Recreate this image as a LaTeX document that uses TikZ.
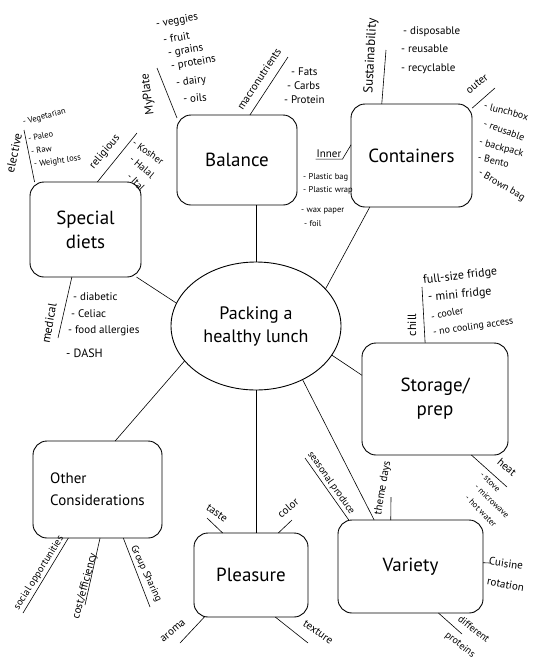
\documentclass[tikz,border=0pt]{standalone}
\usepackage{fontspec}
\setmainfont{PT Sans}
\usetikzlibrary{shapes.geometric}

\begin{document}
\begin{tikzpicture}
    [x=1pt,y=-1pt,
     topic/.style={draw,rounded corners=14pt,line width=0.9pt,outer sep=0pt,align=center,font=\fontsize{19}{24}\selectfont},
     tag/.style={font=\fontsize{11}{13}\selectfont,inner sep=1pt},
     item/.style={tag,anchor=west},
     small/.style={font=\fontsize{8.5}{10}\selectfont},
     mid/.style={font=\fontsize{10}{12}\selectfont},
     big/.style={font=\fontsize{12}{14}\selectfont},
     link/.style={line width=0.6pt}]
    \useasboundingbox (0,0) rectangle (545,662);

    \node[draw,ellipse,minimum width=170pt,minimum height=128pt,inner sep=0pt,outer sep=0pt,line width=0.9pt,align=center,font=\fontsize{18}{23}\selectfont] (hub) at (256,326) {Packing a\\healthy lunch};
    \node[topic,minimum width=120pt,minimum height=90pt] (balance) at (237,160) {Balance};
    \node[topic,minimum width=121pt,minimum height=103pt] (containers) at (411.5,155.5) {Containers};
    \node[topic,minimum width=111pt,minimum height=95pt] (diets) at (85.5,229.5) {Special\\diets};
    \node[topic,minimum width=146pt,minimum height=112pt] (storage) at (435,399) {Storage/\\prep};
    \node[topic,minimum width=129pt,minimum height=97pt,align=left,font=\fontsize{15}{22}\selectfont] (other) at (97.5,489.5) {Other\\Considerations};
    \node[topic,minimum width=114pt,minimum height=84pt] (pleasure) at (251,575) {Pleasure};
    \node[topic,minimum width=145pt,minimum height=93pt] (variety) at (410.5,566.5) {Variety};

    \draw[link] (hub.north) -- (hub.north |- balance.south);
    \draw[link] (hub.south) -- (hub.south |- pleasure.north);
    \foreach \from/\to in {hub.28/containers.231,hub.164/diets.317,hub.339/storage.162,hub.206/other.70,hub.311/variety.128}
        \draw[link] (\from) -- (\to);

    \coordinate (cPlate) at (157,68);
    \coordinate (cMacro) at (288,57);
    \coordinate (cSustain) at (386,50);
    \coordinate (cOuter) at (495,88);
    \coordinate (cElective) at (24,130);
    \coordinate (cReligion) at (137,133);
    \coordinate (cMedical) at (58,338);
    \coordinate (cChill) at (422,287);
    \coordinate (cHeat) at (507,487);
    \coordinate (cTheme) at (391,497);
    \coordinate (cSeason) at (305,458);
    \coordinate (cCuisine) at (490,563);
    \coordinate (cDiffer) at (462,634);
    \coordinate (cSocial) at (23,613);
    \coordinate (cCost) at (85,605);
    \coordinate (cGroup) at (150,607);
    \coordinate (cTaste) at (207,518);
    \coordinate (cColor) at (292,520);
    \coordinate (cAroma) at (180,643);
    \coordinate (cTexture) at (308,643);

    \foreach \from/\to in {balance.145/cPlate,balance.74/cMacro,containers.120/cSustain,containers.38/cOuter,diets.137/cElective,diets.76/cReligion,diets.254/cMedical,storage.100/cChill,storage.303/cHeat,variety.113/cTheme,variety.143/cSeason,variety.3/cCuisine,variety.301/cDiffer,other.239/cSocial,other.273/cCost,other.298/cGroup,pleasure.124/cTaste,pleasure.57/cColor,pleasure.222/cAroma,pleasure.300/cTexture}
        \draw[link] (\from) -- (\to);

    % balance
    \node[tag,big,rotate=97] (tPlate) at (148,94) {MyPlate};
    \node[tag,rotate=57] (tMacro) at (259,79) {macronutrients};
    \node[item,rotate=10] (iVeg) at (155,25) {- veggies};
    \node[item,rotate=10] (iFruit) at (162,40) {- fruit};
    \node[item,rotate=10] (iGrain) at (167,54) {- grains};
    \node[item,rotate=10] (iProt) at (170,67) {- proteins};
    \node[item,rotate=8] (iDairy) at (175,84) {- dairy};
    \node[item,rotate=5] (iOils) at (182,99) {- oils};
    \node[item] (iFats) at (290,72) {- Fats};
    \node[item] (iCarbs) at (286,86) {- Carbs};
    \node[item] (iProtein) at (283,100) {- Protein};

    % containers
    \node[tag,rotate=87,font=\fontsize{13}{15}\selectfont] (tSustain) at (371,56) {Sustainability};
    \node[item] (iDisp) at (402,32) {- disposable};
    \node[item] (iReus) at (400,49) {- reusable};
    \node[item] (iRecy) at (400,69) {- recyclable};
    \node[tag,rotate=38] (tOuter) at (477,84) {outer};
    \node[item,mid,rotate=-15] (iLunch) at (483,105) {- lunchbox};
    \node[item,mid,rotate=-20] (iReusable) at (483,123) {- reusable};
    \node[item,mid,rotate=-15] (iBack) at (478,142) {- backpack};
    \node[item,mid,rotate=-12] (iBento) at (477,157) {- Bento};
    \node[item,mid,rotate=-30] (iBrown) at (478,172) {- Brown bag};
    \node[tag] (tInner) at (329,154) {Inner};
    \draw[link] (containers.170) -- (tInner.south east) -- (tInner.south west);
    \node[item,small] (iBag) at (302,177) {- Plastic bag};
    \node[item,small] (iWrap) at (302,190) {- Plastic wrap};
    \node[item,small] (iWax) at (300,211) {- wax paper};
    \node[item,small] (iFoil) at (303,224) {- foil};

    % special diets
    \node[tag,big,rotate=78] (tElect) at (14,153) {elective};
    \node[item,small,rotate=15] (iVegetarian) at (22,123) {- Vegetarian};
    \node[item,small,rotate=12] (iPaleo) at (27,139) {- Paleo};
    \node[item,small,rotate=10] (iRaw) at (30,152) {- Raw};
    \node[item,small,rotate=8] (iWeight) at (33,165) {- Weight loss};
    \node[tag,rotate=50] (tRelig) at (105,152) {religious};
    \node[tag,mid,rotate=-35] (iKosher) at (148,152) {- Kosher};
    \node[tag,mid,rotate=-40] (iHalal) at (142,167) {- Halal};
    \node[tag,mid,rotate=-45] (iItal) at (136,182) {- Ital};
    \node[tag,big,rotate=80] (tMedical) at (49,323) {medical};
    \node[item] (iDiab) at (72,297) {- diabetic};
    \node[item] (iCeliac) at (70,314) {- Celiac};
    \node[item] (iAllerg) at (67,331) {- food allergies};
    \node[item,big] (iDash) at (65,353) {- DASH};

    % storage
    \node[tag,big,rotate=90] (tChill) at (412,325) {chill};
    \node[item,big,rotate=7] (iFull) at (422,281) {full-size fridge};
    \node[item,big,rotate=5] (iMini) at (427,298) {- mini fridge};
    \node[item,mid,rotate=12] (iCooler) at (430,317) {- cooler};
    \node[item,mid,rotate=8] (iNoCool) at (432,333) {- no cooling access};
    \node[tag,rotate=-40] (tHeat) at (507,467) {heat};
    \node[tag,small,rotate=-45] (iStove) at (490,482) {- stove};
    \node[tag,small,rotate=-45] (iMicro) at (492,501) {- microwave};
    \node[tag,small,rotate=-45] (iHot) at (481,511) {- hot water};

    % variety
    \node[tag,rotate=80] (tTheme) at (383,488) {theme days};
    \node[tag,mid,rotate=-55] (tSeason) at (331,483) {seasonal produce};
    \node[item,rotate=-8] (tCuisine) at (488,561) {Cuisine};
    \node[item,rotate=-10] (tRotation) at (486,581) {rotation};
    \node[tag,mid,rotate=-38] (tDiffer) at (474,629) {different};
    \node[tag,mid,rotate=-38] (tProteins) at (460,645) {proteins};

    % other considerations
    \node[tag,mid,rotate=58] (tSocial) at (39,573) {social opportunities};
    \node[tag,rotate=75] (tCost) at (85,586) {cost/efficiency};
    \node[tag,mid,rotate=-65] (tGroup) at (146,574) {Group Sharing};

    % pleasure
    \node[tag,rotate=-35] (tTaste) at (217,513) {taste};
    \node[tag,rotate=40] (tColor) at (288,508) {color};
    \node[tag,rotate=40] (tAroma) at (173,631) {aroma};
    \node[tag,rotate=-35] (tTexture) at (318,632) {texture};

\end{tikzpicture}
\end{document}
